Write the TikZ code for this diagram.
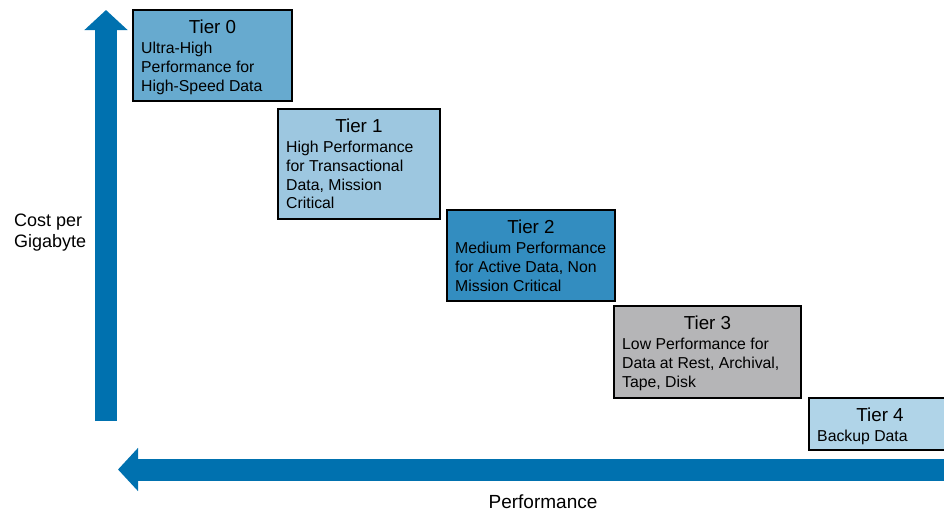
\documentclass[tikz,border=0pt]{standalone}
\usepackage{fontspec}
\setmainfont{Liberation Sans}
\usetikzlibrary{arrows.meta}
\definecolor{axisblue}{HTML}{0071AF}
\definecolor{tierzero}{HTML}{67AACF}
\definecolor{tierone}{HTML}{9DC7E0}
\definecolor{tiertwo}{HTML}{338DC0}
\definecolor{tierthree}{HTML}{B5B5B7}
\definecolor{tierfour}{HTML}{B0D4E8}

\begin{document}
\begin{tikzpicture}[x=1pt,y=-1pt,
  tierbox/.style={draw=black,line width=2pt,anchor=north west,inner sep=0pt},
  tiertitle/.style={font=\fontsize{18.8}{20}\selectfont,anchor=base,inner sep=0pt},
  tierbody/.style={font=\fontsize{15.8}{18.7}\selectfont,align=left,anchor=north west,inner sep=0pt},
  axisarrow/.style={draw=axisblue,line width=22pt,-{Triangle[length=20pt,width=42pt]}}]
  \clip (0,0) rectangle (944,512);

  \coordinate (ybot) at (106,421);
  \coordinate (ytop) at (106,10);
  \coordinate (xright) at (960,469.5);
  \coordinate (xleft) at (118,469.5);
  \draw[axisarrow] (ybot) -- (ytop);
  \draw[axisarrow] (xright) -- (xleft);

  \node[font=\fontsize{18}{20.5}\selectfont,align=left,anchor=north west,inner sep=0pt]
    (cost) at (14,214) {Cost per\\Gigabyte};
  \node[font=\fontsize{19}{21}\selectfont,anchor=base,inner sep=0pt]
    (perf) at (543,508) {Performance};

  \node[tierbox,fill=tierzero,minimum width=159pt,minimum height=91pt] (t0) at (132,9) {};
  \node[tiertitle] (t0title) at ([yshift=-24pt]t0.north) {Tier 0};
  \node[tierbody] (t0body) at ([xshift=9pt,yshift=-33pt]t0.north west)
    {Ultra-High\\Performance for\\High-Speed Data};

  \node[tierbox,fill=tierone,minimum width=162pt,minimum height=110pt] (t1) at (277,108) {};
  \node[tiertitle] (t1title) at ([yshift=-24pt]t1.north) {Tier 1};
  \node[tierbody] (t1body) at ([xshift=9pt,yshift=-33pt]t1.north west)
    {High Performance\\for Transactional\\Data, Mission\\Critical};

  \node[tierbox,fill=tiertwo,minimum width=168pt,minimum height=91pt] (t2) at (446,209) {};
  \node[tiertitle] (t2title) at ([yshift=-24pt]t2.north) {Tier 2};
  \node[tierbody] (t2body) at ([xshift=9pt,yshift=-33pt]t2.north west)
    {Medium Performance\\for Active Data, Non\\Mission Critical};

  \node[tierbox,fill=tierthree,minimum width=187pt,minimum height=92pt] (t3) at (613,305) {};
  \node[tiertitle] (t3title) at ([yshift=-24pt]t3.north) {Tier 3};
  \node[tierbody] (t3body) at ([xshift=9pt,yshift=-33pt]t3.north west)
    {Low Performance for\\Data at Rest, Archival,\\Tape, Disk};

  \node[tierbox,fill=tierfour,minimum width=142pt,minimum height=52pt] (t4) at (808,397) {};
  \node[tiertitle] (t4title) at ([yshift=-24pt]t4.north) {Tier 4};
  \node[tierbody] (t4body) at ([xshift=9pt,yshift=-33pt]t4.north west)
    {Backup Data};
\end{tikzpicture}
\end{document}
